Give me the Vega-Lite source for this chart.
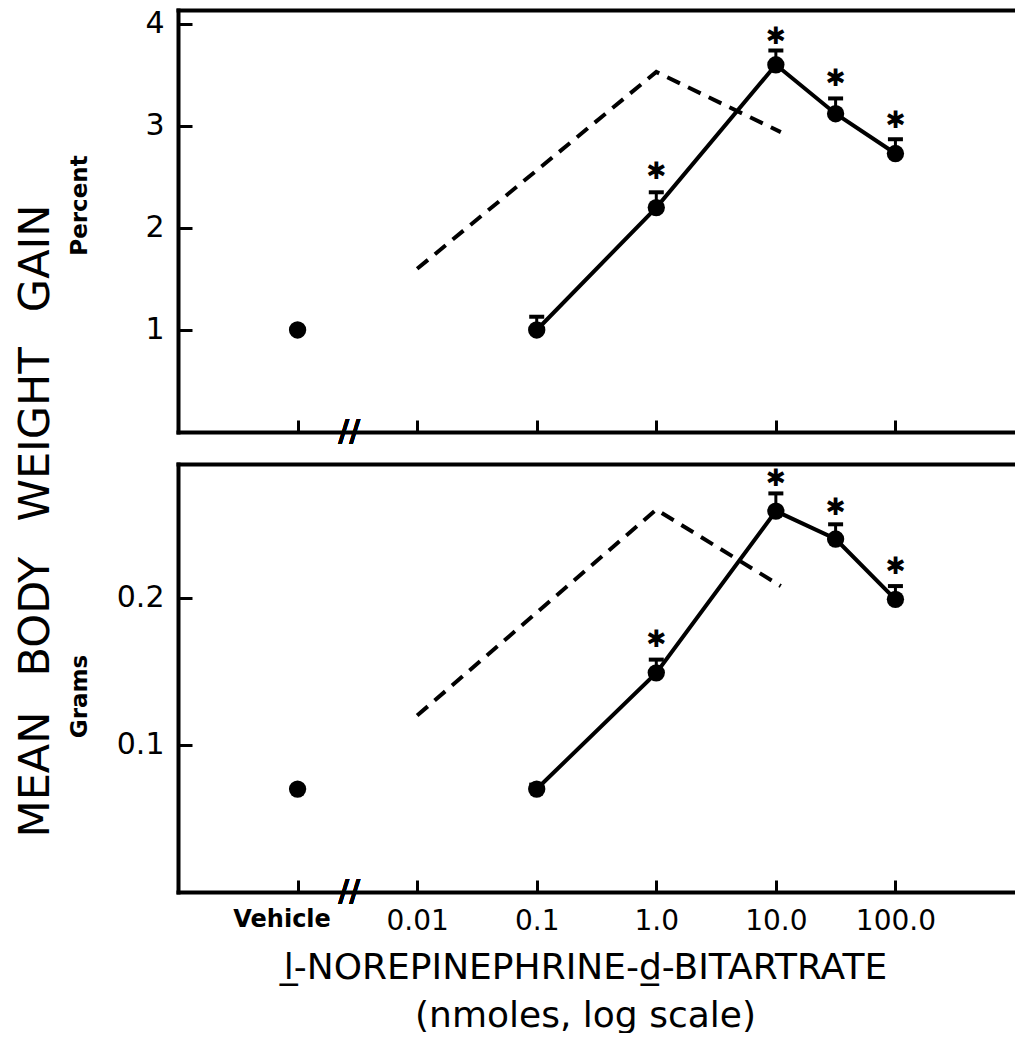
{
  "$schema": "https://vega.github.io/schema/vega-lite/v6.json",
  "padding": {"left": 14, "top": 8, "right": 0, "bottom": 0},
  "datasets": {
    "percent": [
      {"series": "Vehicle", "dose": 0.001, "gain": 1.0, "upper": null, "star": null},
      {"series": "treated", "dose": 0.1, "gain": 1.0, "upper": 1.13, "star": null},
      {"series": "treated", "dose": 1, "gain": 2.2, "upper": 2.35, "star": 2.55},
      {"series": "treated", "dose": 10, "gain": 3.6, "upper": 3.74, "star": 3.87},
      {"series": "treated", "dose": 31.6, "gain": 3.12, "upper": 3.27, "star": 3.46},
      {"series": "treated", "dose": 100, "gain": 2.73, "upper": 2.87, "star": 3.05},
      {"series": "comparison", "dose": 0.01, "gain": 1.6, "upper": null, "star": null},
      {"series": "comparison", "dose": 1, "gain": 3.53, "upper": null, "star": null},
      {"series": "comparison", "dose": 11, "gain": 2.94, "upper": null, "star": null}
    ],
    "grams": [
      {"series": "Vehicle", "dose": 0.001, "gain": 0.07, "upper": null, "star": null},
      {"series": "treated", "dose": 0.1, "gain": 0.07, "upper": 0.073, "star": null},
      {"series": "treated", "dose": 1, "gain": 0.149, "upper": 0.158, "star": 0.171},
      {"series": "treated", "dose": 10, "gain": 0.259, "upper": 0.271, "star": 0.281},
      {"series": "treated", "dose": 31.6, "gain": 0.24, "upper": 0.25, "star": 0.261},
      {"series": "treated", "dose": 100, "gain": 0.199, "upper": 0.208, "star": 0.221},
      {"series": "comparison", "dose": 0.01, "gain": 0.12, "upper": null, "star": null},
      {"series": "comparison", "dose": 1, "gain": 0.26, "upper": null, "star": null},
      {"series": "comparison", "dose": 11, "gain": 0.208, "upper": null, "star": null}
    ]
  },
  "title": {
    "text": "MEAN\u2002 BODY\u2002 WEIGHT\u2002 GAIN",
    "orient": "left",
    "anchor": "middle",
    "fontSize": 43,
    "fontWeight": "normal",
    "font": "DejaVu Sans",
    "color": "black",
    "offset": 10
  },
  "spacing": 17,
  "vconcat": [
    {
      "width": 837,
      "height": 422,
      "data": {"name": "percent"},
      "resolve": {"axis": {"x": "independent"}},
      "layer": [
        {
          "encoding": {
            "x": {
              "field": "dose", "type": "quantitative",
              "scale": {"type": "log", "domain": [0.000106, 871]},
              "axis": {"orient": "bottom", "values": [0.001, 0.01, 0.1, 1, 10, 100], "labels": false, "tickSize": -12, "title": null}
            },
            "y": {
              "field": "gain", "type": "quantitative",
              "scale": {"domain": [0, 4.137], "nice": false, "zero": false},
              "axis": {"values": [1, 2, 3, 4], "format": "d", "tickSize": -14, "labelPadding": 28, "labelFontSize": 30,
                       "title": "Percent", "titleFontSize": 23, "titleFontWeight": "bold", "titleX": -99, "titleY": 195, "titleBaseline": "middle", "titleAngle": -90}
            }
          },
          "layer": [
            {"transform": [{"filter": "datum.series == 'comparison'"}], "mark": {"type": "line", "color": "black", "strokeWidth": 4, "strokeDash": [14, 9]}},
            {"transform": [{"filter": "datum.series == 'treated'"}], "mark": {"type": "line", "color": "black", "strokeWidth": 4}},
            {"transform": [{"filter": "datum.series == 'treated'"}], "mark": {"type": "rule", "color": "black", "strokeWidth": 3, "opacity": 1}, "encoding": {"y2": {"field": "upper"}}},
            {"transform": [{"filter": "datum.series == 'treated'"}], "mark": {"type": "tick", "orient": "horizontal", "color": "black", "opacity": 1, "size": 15, "thickness": 4}, "encoding": {"y": {"field": "upper", "type": "quantitative"}}},
            {"transform": [{"filter": "datum.series != 'comparison'"}], "mark": {"type": "circle", "color": "black", "opacity": 1, "size": 300}},
            {"transform": [{"filter": "datum.star != null"}], "mark": {"type": "text", "text": "\u2731", "fontSize": 24, "color": "black", "baseline": "middle"}, "encoding": {"y": {"field": "star", "type": "quantitative"}}}
          ]
        },
        {
          "mark": {"type": "text", "text": "//", "fontSize": 30, "fontWeight": "bold", "color": "black", "baseline": "middle", "align": "center"},
          "encoding": {
            "x": {"datum": 0.0027, "type": "quantitative", "axis": {"orient": "top", "labels": false, "ticks": false, "title": null}},
            "y": {"datum": 0, "type": "quantitative"}
          }
        }
      ]
    },
    {
      "width": 837,
      "height": 428,
      "data": {"name": "grams"},
      "resolve": {"axis": {"x": "independent"}},
      "layer": [
        {
          "encoding": {
            "x": {
              "field": "dose", "type": "quantitative",
              "scale": {"type": "log", "domain": [0.000106, 871]},
              "axis": {
                "orient": "bottom", "values": [0.001, 0.01, 0.1, 1, 10, 100], "tickSize": -12, "labelPadding": 27,
                "labelExpr": "datum.value < 0.005 ? 'Vehicle' : datum.value < 0.05 ? '0.01' : datum.value < 0.5 ? '0.1' : format(datum.value, '.1f')",
                "labelFontWeight": {"condition": {"test": "datum.value < 0.005", "value": "bold"}, "value": "normal"},
                "labelFontSize": {"condition": {"test": "datum.value < 0.005", "value": 24}, "value": 28},
                "labelOffset": {"condition": {"test": "datum.value < 0.005", "value": -16}, "value": 0},
                "labelBaseline": "top",
                "title": ["l\u0332-NOREPINEPHRINE-d\u0332-BITARTRATE", "(nmoles, log scale)"],
                "titleFontSize": 36, "titleFontWeight": "normal", "titleLineHeight": 48, "titlePadding": 15,
                "titleX": 407, "titleAlign": "center"
              }
            },
            "y": {
              "field": "gain", "type": "quantitative",
              "scale": {"domain": [0, 0.291], "nice": false, "zero": false},
              "axis": {"values": [0.1, 0.2], "format": ".1f", "tickSize": -14, "labelPadding": 28, "labelFontSize": 30,
                       "title": "Grams", "titleFontSize": 23, "titleFontWeight": "bold", "titleX": -99, "titleY": 232, "titleBaseline": "middle", "titleAngle": -90}
            }
          },
          "layer": [
            {"transform": [{"filter": "datum.series == 'comparison'"}], "mark": {"type": "line", "color": "black", "strokeWidth": 4, "strokeDash": [14, 9]}},
            {"transform": [{"filter": "datum.series == 'treated'"}], "mark": {"type": "line", "color": "black", "strokeWidth": 4}},
            {"transform": [{"filter": "datum.series == 'treated'"}], "mark": {"type": "rule", "color": "black", "strokeWidth": 3, "opacity": 1}, "encoding": {"y2": {"field": "upper"}}},
            {"transform": [{"filter": "datum.series == 'treated'"}], "mark": {"type": "tick", "orient": "horizontal", "color": "black", "opacity": 1, "size": 15, "thickness": 4}, "encoding": {"y": {"field": "upper", "type": "quantitative"}}},
            {"transform": [{"filter": "datum.series != 'comparison'"}], "mark": {"type": "circle", "color": "black", "opacity": 1, "size": 300}},
            {"transform": [{"filter": "datum.star != null"}], "mark": {"type": "text", "text": "\u2731", "fontSize": 24, "color": "black", "baseline": "middle"}, "encoding": {"y": {"field": "star", "type": "quantitative"}}}
          ]
        },
        {
          "mark": {"type": "text", "text": "//", "fontSize": 30, "fontWeight": "bold", "color": "black", "baseline": "middle", "align": "center"},
          "encoding": {
            "x": {"datum": 0.0027, "type": "quantitative", "axis": {"orient": "top", "labels": false, "ticks": false, "title": null}},
            "y": {"datum": 0, "type": "quantitative"}
          }
        }
      ]
    }
  ],
  "config": {
    "font": "DejaVu Sans",
    "view": {"stroke": null},
    "axis": {
      "grid": false,
      "domainColor": "black", "domainWidth": 4, "domainCap": "square",
      "tickColor": "black", "tickWidth": 3,
      "labelColor": "black", "titleColor": "black", "labelFont": "DejaVu Sans", "titleFont": "DejaVu Sans"
    }
  }
}
